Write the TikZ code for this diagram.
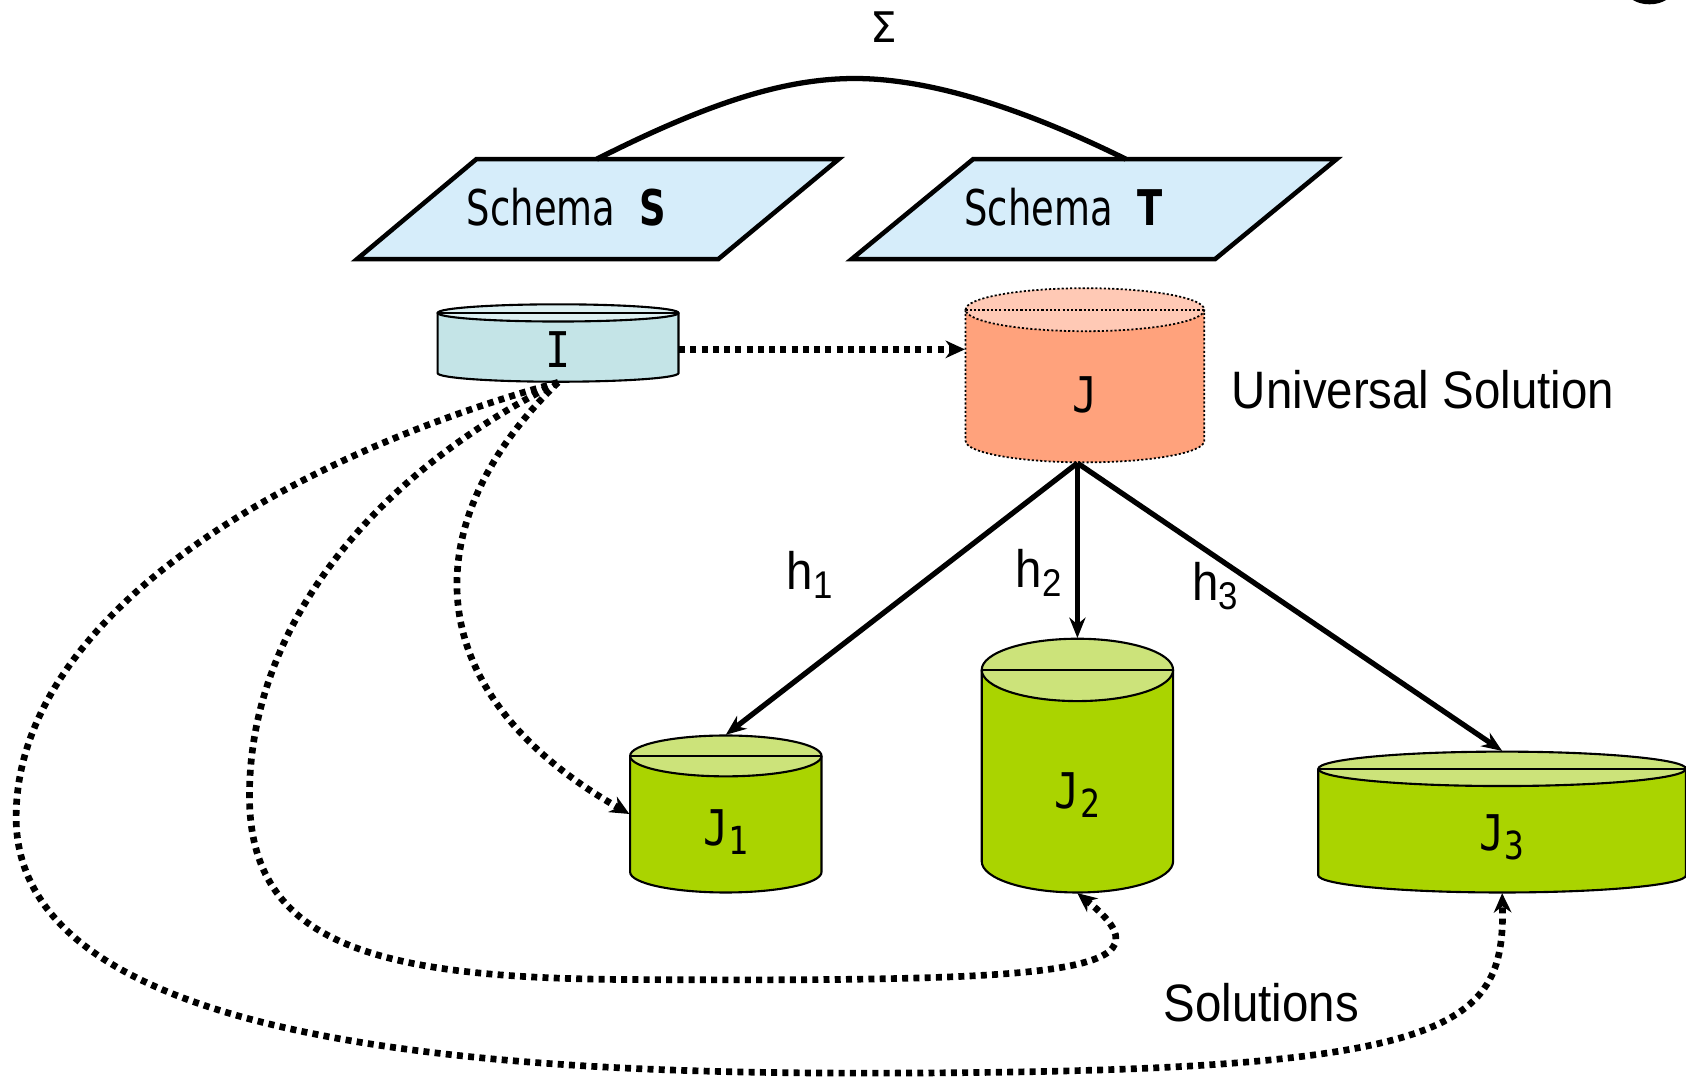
\documentclass[tikz,border=0pt]{standalone}
\usepackage{fontspec}
\setmainfont{Liberation Sans}[FakeStretch=0.9]
\newfontfamily\schemafont[FakeStretch=0.75]{DejaVu Sans}
\newfontfamily\dbfont[FakeStretch=0.85]{DejaVu Sans Mono}
\newfontfamily\symfont{DejaVu Sans}
\usetikzlibrary{positioning, calc, arrows.meta, fit}
\definecolor{schemablue}{HTML}{D6EDFA}
\definecolor{ibody}{HTML}{C4E4E7}
\definecolor{itop}{HTML}{DCF0F2}
\definecolor{jbody}{HTML}{FFA27C}
\definecolor{jtop}{HTML}{FFC9B5}
\definecolor{gbody}{HTML}{AAD400}
\definecolor{gtop}{HTML}{CCE37A}
\tikzset{
  schema/.style={draw=black,line width=1.3pt,fill=schemablue},
  iline/.style={draw=black,line width=0.6pt},
  jline/.style={draw=black,line width=0.5pt,dash pattern=on 0.6pt off 0.6pt},
  gline/.style={draw=black,line width=0.6pt},
  arr/.style={-{Stealth[length=5.8pt,width=4.6pt]},line width=1.5pt},
  dotarr/.style={-{Stealth[length=5.5pt,width=5pt]},line width=1.9pt,
    dash pattern=on 1.7pt off 1.5pt},
  lbl/.style={font=\fontsize{15}{17}\selectfont,inner sep=0pt},
  schematext/.style={font=\schemafont\fontsize{14}{16}\selectfont,inner sep=0pt},
  dbtext/.style={font=\dbfont\fontsize{14}{16}\selectfont,inner sep=0pt},
}
% palette, name, x, y top, y bottom, x radius, y radius, text
\newcommand{\dbcyl}[8]{%
  \fill[fill=#1body] (#3-#6,#4) -- (#3-#6,#5)
    arc[start angle=180,end angle=0,x radius=#6,y radius=#7] -- (#3+#6,#4) -- cycle;
  \draw[#1line] (#3-#6,#4) -- (#3-#6,#5)
    arc[start angle=180,end angle=0,x radius=#6,y radius=#7] -- (#3+#6,#4);
  \filldraw[#1line,fill=#1top] (#3,#4) ellipse[x radius=#6,y radius=#7];
  \draw[#1line] (#3-#6,#4) -- (#3+#6,#4);
  \node[fit={(#3-#6,#4-#7) (#3+#6,#5+#7)},inner sep=0pt] (#2) {};
  \node[dbtext] (#2-t) at (#3,{(#4+#5)/2+#7-2}) {#8};
}
\newcommand{\sub}[1]{\raisebox{-2.6pt}{\fontsize{11}{11}\selectfont #1}}

\begin{document}
\begin{tikzpicture}[x=0.01075cm,y=-0.01075cm]
  \useasboundingbox (0,0) rectangle (1568,1005);
  \fill (1534,-10) ellipse[x radius=22,y radius=14];

  \draw[schema] (443,148) -- (780,148) -- (668,241) -- (332,241) -- cycle;
  \draw[schema] (905,148) -- (1243,148) -- (1130,241) -- (792,241) -- cycle;
  \node[schematext] (S) at (527,193) {Schema\hspace{7pt}\textbf{S}};
  \node[schematext] (T) at (989,193) {Schema\hspace{7pt}\textbf{T}};
  \coordinate (S-top) at (555,148);
  \coordinate (T-top) at (1047,148);
  \draw[line width=1.5pt] (S-top) .. controls (660,95) and (730,73) .. (795,73)
    .. controls (870,73) and (960,105) .. (T-top);
  \node[font=\symfont\fontsize{12}{14}\selectfont,inner sep=0pt] (sigma) at (822,25) {Σ};

  \dbcyl{i}{I}{519}{291}{347}{112}{8}{I}
  \dbcyl{j}{J}{1009}{288}{410}{111}{20}{J}
  \dbcyl{g}{J1}{675}{703}{811}{89}{19}{J\sub{1}}
  \dbcyl{g}{J2}{1002}{623}{801}{89}{29}{J\sub{2}}
  \dbcyl{g}{J3}{1397}{715}{814}{171}{16}{J\sub{3}}

  \node[lbl,anchor=west] (univ) at (1145,362) {Universal Solution};
  \node[lbl] (sols) at (1173,932) {Solutions};

  \coordinate (hub) at (J2.north |- J.south);
  \draw[arr] (hub) -- (J1.north);
  \draw[arr] (hub) -- (J2.north);
  \draw[arr] (hub) -- (J3.north);
  \node[lbl] (h1) at (753,535) {h\sub{1}};
  \node[lbl] (h2) at (966,533) {h\sub{2}};
  \node[lbl] (h3) at (1130,545) {h\sub{3}};

  \coordinate (Iout) at ([yshift=-1.8pt]I.east);
  \draw[dotarr] (Iout) -- (Iout -| J.west);
  \draw[dotarr] (I.south) .. controls (390,480) and (380,640) .. (J1.west);
  \draw[dotarr] (I.south) .. controls (350,440) and (232,580) .. (232,740)
    .. controls (232,880) and (350,911) .. (600,911)
    .. controls (990,913) and (1095,905) .. (J2.south);
  \draw[dotarr] (I.south) .. controls (250,430) and (15,580) .. (15,760)
    .. controls (15,960) and (400,998) .. (800,998)
    .. controls (1350,998) and (1400,960) .. (J3.south);
\end{tikzpicture}
\end{document}
